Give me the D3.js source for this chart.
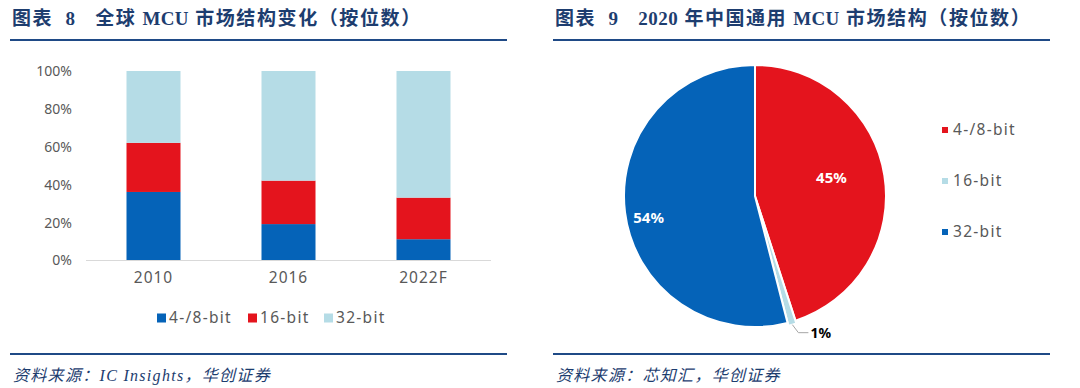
<!DOCTYPE html>
<html>
<head>
<meta charset="utf-8">
<script src="https://cdn.jsdelivr.net/npm/d3@7"></script>
<style>
  body { margin: 0; background: #fff; }
  svg { display: block; }
</style>
</head>
<body>
<div id="chart"></div>
<script>
// bar chart data (left panel)
var categories = ['2010', '2016', '2022F'];
var bit48 = [36, 19, 11];
var bit16 = [26, 23, 22];
var bit32 = [38, 58, 67];
var barSeries = ['4-/8-bit', '16-bit', '32-bit'];
var yTicks = [0, 20, 40, 60, 80, 100];

// pie data (right panel)
var pieLabels = ['4-/8-bit', '16-bit', '32-bit'];
var pieValues = [45, 1, 54];

(function () {
    var width = 1080, height = 388;
    var navy = '#1d3d6f';
    var lineBlue = '#1f4a86';
    var blue = '#0563b8', red = '#e4141d', light = '#b5dce6';
    var tickGrey = '#595959';
    var numFont = '"Noto Sans", "Liberation Sans", sans-serif';
    var titleFont = '"Liberation Serif", "Noto Sans CJK SC", serif';

    var svg = d3.select('#chart').append('svg')
        .attr('width', width).attr('height', height);

    // ---- headers / footers
    // title parts: [text, letter-spacing]
    function frame(x0, x1, parts, source) {
        var t = svg.append('text').attr('x', x0 + 2).attr('y', 25)
            .attr('font-family', titleFont).attr('font-weight', 'bold')
            .attr('font-size', 19).attr('fill', navy)
            .attr('xml:space', 'preserve');
        parts.forEach(function (p) {
            t.append('tspan').attr('letter-spacing', p[1]).text(p[0]);
        });
        svg.append('line').attr('x1', x0).attr('x2', x1).attr('y1', 40).attr('y2', 40)
            .attr('stroke', lineBlue).attr('stroke-width', 2.2);
        svg.append('line').attr('x1', x0).attr('x2', x1).attr('y1', 354).attr('y2', 354)
            .attr('stroke', lineBlue).attr('stroke-width', 2.2);
        svg.append('text').attr('x', x0 + 3).attr('y', 381)
            .attr('font-family', titleFont).attr('font-style', 'italic')
            .attr('font-size', 16).attr('fill', navy)
            .attr('letter-spacing', 1.3)
            .text(source);
    }
    frame(10, 507,
        [['图表  8   全球 ', 1.5], ['MCU', 0.3], [' 市场结构变化（按位数）', 1.6]],
        '资料来源：IC Insights，华创证券');
    frame(553, 1050,
        [['图表  9   ', 1.5], ['2020', 0.5], [' 年中国通用 ', 1.5], ['MCU', 0.3], [' 市场结构（按位数）', 1.6]],
        '资料来源：芯知汇，华创证券');

    // ---- stacked bar chart
    var rows = categories.map(function (c, i) {
        return { cat: c, '4-/8-bit': bit48[i], '16-bit': bit16[i], '32-bit': bit32[i] };
    });
    var stack = d3.stack().keys(barSeries)(rows);
    var x = d3.scaleBand().domain(categories).range([86, 491]).paddingInner(0.6).paddingOuter(0.3);
    var y = d3.scaleLinear().domain([0, 100]).range([260, 71]);
    var barColor = d3.scaleOrdinal().domain(barSeries).range([blue, red, light]);

    var g = svg.append('g');
    g.selectAll('g.layer').data(stack).join('g')
        .attr('class', 'layer')
        .attr('fill', function (d) { return barColor(d.key); })
        .selectAll('rect').data(function (d) { return d; }).join('rect')
        .attr('x', function (d) { return x(d.data.cat); })
        .attr('width', x.bandwidth())
        .attr('y', function (d) { return y(d[1]); })
        .attr('height', function (d) { return y(d[0]) - y(d[1]); });

    var yAxis = g.append('g').attr('transform', 'translate(72,0)')
        .call(d3.axisLeft(y).tickValues(yTicks).tickSize(0).tickPadding(0)
            .tickFormat(function (d) { return d + '%'; }));
    yAxis.select('.domain').remove();
    yAxis.selectAll('text').attr('font-family', numFont).attr('font-size', 14)
        .attr('fill', tickGrey).attr('dy', '0.35em');

    var xAxis = g.append('g').attr('transform', 'translate(0,260)')
        .call(d3.axisBottom(x).tickSize(0).tickPadding(12));
    xAxis.select('.domain').attr('stroke', '#d9d9d9').attr('stroke-width', 1.2)
        .attr('d', 'M86,0.5H491');
    xAxis.selectAll('text').attr('font-family', numFont).attr('font-size', 15.5)
        .attr('letter-spacing', 1).attr('fill', tickGrey);

    var legX = [157, 248, 324];
    var leg = g.selectAll('g.leg').data(barSeries).join('g')
        .attr('class', 'leg')
        .attr('transform', function (d, i) { return 'translate(' + legX[i] + ',318)'; });
    leg.append('rect').attr('x', 0).attr('y', -4.5).attr('width', 9).attr('height', 9)
        .attr('fill', function (d) { return barColor(d); });
    leg.append('text').attr('x', 12).attr('dy', '0.35em')
        .attr('font-family', numFont).attr('font-size', 15.5).attr('fill', tickGrey)
        .attr('letter-spacing', 1.3)
        .text(function (d) { return d; });

    // ---- pie chart
    var cx = 755, cy = 196, r = 131;
    var pieColor = d3.scaleOrdinal().domain(pieLabels).range([red, light, blue]);
    var labelR = [0.6, 1, 0.83];
    var arcs = d3.pie().sort(null).value(function (d) { return d.v; })
        (pieLabels.map(function (l, i) { return { label: l, v: pieValues[i], lr: labelR[i] }; }));
    var arc = d3.arc().innerRadius(0).outerRadius(r);
    var pg = svg.append('g').attr('transform', 'translate(' + cx + ',' + cy + ')');

    pg.selectAll('path').data(arcs).join('path')
        .attr('d', arc)
        .attr('transform', function (d) {
            if (d.data.v > 2) return null;
            var a = (d.startAngle + d.endAngle) / 2;
            return 'translate(' + (Math.sin(a) * 3) + ',' + (-Math.cos(a) * 3) + ')';
        })
        .attr('fill', function (d) { return pieColor(d.data.label); })
        .attr('stroke', '#fff').attr('stroke-width', 2);

    arcs.forEach(function (d) {
        var a = (d.startAngle + d.endAngle) / 2;
        if (d.data.v > 2) {
            var lr = r * d.data.lr;
            pg.append('text').attr('x', Math.sin(a - 0.08) * lr).attr('y', -Math.cos(a - 0.08) * lr)
                .attr('text-anchor', 'middle').attr('dy', '0.35em')
                .attr('font-family', numFont).attr('font-weight', 'bold')
                .attr('font-size', 15).attr('fill', '#fff')
                .text(d.data.v + '%');
        } else {
            var p0 = [Math.sin(a) * (r + 3), -Math.cos(a) * (r + 3)];
            var p1 = [p0[0] + 6, p0[1] + 8];
            var p2 = [p1[0] + 10, p1[1]];
            pg.append('polyline')
                .attr('points', [p0, p1, p2].map(function (p) { return p.join(','); }).join(' '))
                .attr('fill', 'none').attr('stroke', '#a6a6a6').attr('stroke-width', 1);
            pg.append('text').attr('x', p2[0] + 2).attr('y', p2[1]).attr('dy', '0.35em')
                .attr('font-family', numFont).attr('font-weight', 'bold')
                .attr('font-size', 14).attr('fill', '#000')
                .text(d.data.v + '%');
        }
    });

    var pleg = svg.selectAll('g.pleg').data(pieLabels).join('g')
        .attr('class', 'pleg')
        .attr('transform', function (d, i) { return 'translate(942,' + (130 + i * 51) + ')'; });
    pleg.append('rect').attr('x', 0).attr('y', -3).attr('width', 6).attr('height', 6)
        .attr('fill', function (d) { return pieColor(d); });
    pleg.append('text').attr('x', 11).attr('dy', '0.35em')
        .attr('font-family', numFont).attr('font-size', 15.5).attr('fill', tickGrey)
        .attr('letter-spacing', 1.3)
        .text(function (d) { return d; });
})();
</script>
</body>
</html>
